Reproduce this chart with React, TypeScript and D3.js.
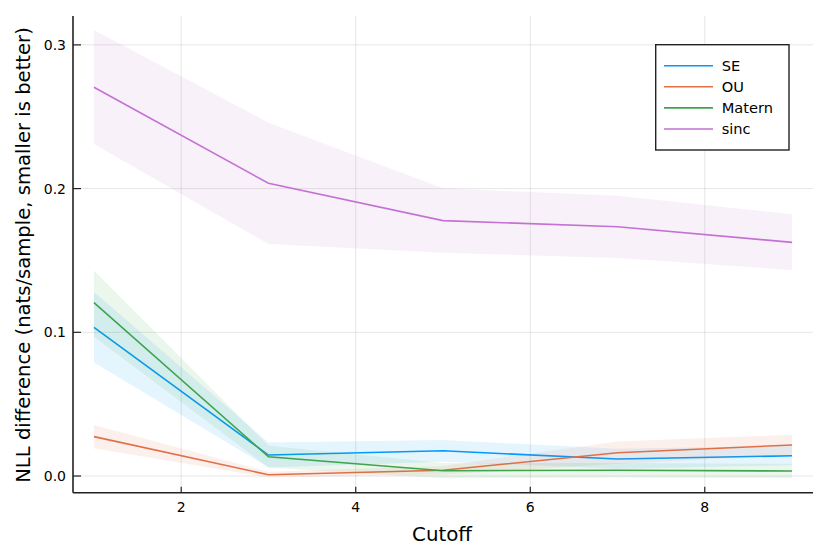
import React from "react";
import * as d3 from "d3";

// cutoff values on the x axis
const cutoffs = [1, 3, 5, 7, 9];

// mean NLL difference and ribbon bounds per kernel
const seMean = [0.1035, 0.0146, 0.0176, 0.0118, 0.0141];
const seLower = [0.079, 0.006, 0.01, 0.005, 0.0075];
const seUpper = [0.128, 0.0234, 0.025, 0.019, 0.021];

const ouMean = [0.0274, 0.0009, 0.004, 0.0162, 0.0216];
const ouLower = [0.0193, -0.001, 0.001, 0.0085, 0.0145];
const ouUpper = [0.0355, 0.003, 0.007, 0.024, 0.0287];

const maternMean = [0.1206, 0.0134, 0.0037, 0.004, 0.0035];
const maternLower = [0.097, 0.006, -0.0016, -0.001, -0.0015];
const maternUpper = [0.143, 0.021, 0.009, 0.009, 0.0085];

const sincMean = [0.2705, 0.2037, 0.1777, 0.1735, 0.1626];
const sincLower = [0.231, 0.1614, 0.1554, 0.1517, 0.1434];
const sincUpper = [0.3104, 0.2459, 0.2002, 0.1951, 0.1821];

const xTicks = [2, 4, 6, 8];
const yTicks = [0.0, 0.1, 0.2, 0.3];

const seriesNames = ["SE", "OU", "Matern", "sinc"];
const colors = ["#009AFA", "#E36F47", "#3EA44E", "#C371D2"];

const W = 830;
const H = 554;
const left = 73;
const right = 813;
const top = 16;
const bottom = 492.7;

const font = "'DejaVu Sans', sans-serif";

export default function App() {
  const x = d3.scaleLinear().domain([0.76, 9.24]).range([left, right]);
  const y = d3.scaleLinear().domain([-0.0116, 0.3201]).range([bottom, top]);

  const series = [
    { mean: seMean, lo: seLower, hi: seUpper },
    { mean: ouMean, lo: ouLower, hi: ouUpper },
    { mean: maternMean, lo: maternLower, hi: maternUpper },
    { mean: sincMean, lo: sincLower, hi: sincUpper },
  ];

  const line = d3
    .line<number>()
    .x((_, i) => x(cutoffs[i]))
    .y((d) => y(d));

  const band = (lo: number[], hi: number[]) =>
    d3
      .area<number>()
      .x((_, i) => x(cutoffs[i]))
      .y0((_, i) => y(lo[i]))
      .y1((_, i) => y(hi[i]))(cutoffs);

  const legX = 655.7;
  const legY = 44.7;

  return (
    <svg
      width={W}
      height={H}
      style={{ position: "absolute", left: 0, top: 0, background: "white" }}
      fontFamily={font}
    >
      <rect width={W} height={H} fill="white" />
      {/* grid */}
      {xTicks.map((t) => (
        <line key={"gx" + t} x1={x(t)} x2={x(t)} y1={top} y2={bottom} stroke="#000" strokeOpacity={0.1} strokeWidth={1} />
      ))}
      {yTicks.map((t) => (
        <line key={"gy" + t} x1={left} x2={right} y1={y(t)} y2={y(t)} stroke="#000" strokeOpacity={0.1} strokeWidth={1} />
      ))}

      {/* series */}
      {series.map((s, i) => (
        <g key={seriesNames[i]}>
          <path d={band(s.lo, s.hi) || ""} fill={colors[i]} fillOpacity={0.1} stroke="none" />
          <path d={line(s.mean) || ""} fill="none" stroke={colors[i]} strokeWidth={1.6} />
        </g>
      ))}

      {/* axes */}
      <line x1={left} x2={left} y1={top} y2={bottom} stroke="#222" strokeWidth={1.6} />
      <line x1={left} x2={right} y1={bottom} y2={bottom} stroke="#222" strokeWidth={1.6} />
      {xTicks.map((t) => (
        <g key={"xt" + t}>
          <line x1={x(t)} x2={x(t)} y1={bottom} y2={bottom - 6} stroke="#222" strokeWidth={1.2} />
          <text x={x(t)} y={512} textAnchor="middle" fontSize={14} fill="#000">
            {t}
          </text>
        </g>
      ))}
      {yTicks.map((t) => (
        <g key={"yt" + t}>
          <line x1={left} x2={left + 8} y1={y(t)} y2={y(t)} stroke="#222" strokeWidth={1.2} />
          <text x={66} y={y(t)} dy="0.36em" textAnchor="end" fontSize={14} fill="#000">
            {t.toFixed(1)}
          </text>
        </g>
      ))}

      <text x={442} y={541} textAnchor="middle" fontSize={19.8} fill="#000">
        Cutoff
      </text>
      <text
        transform={`translate(30,255) rotate(-90)`}
        textAnchor="middle"
        fontSize={19.6}
        fill="#000"
      >
        NLL difference (nats/sample, smaller is better)
      </text>

      {/* legend */}
      <rect x={legX} y={legY} width={133.3} height={105.3} fill="white" stroke="#222" strokeWidth={1.4} />
      {seriesNames.map((n, i) => (
        <g key={"lg" + n}>
          <line
            x1={664}
            x2={713}
            y1={65.7 + i * 21.1}
            y2={65.7 + i * 21.1}
            stroke={colors[i]}
            strokeWidth={1.6}
          />
          <text x={721.7} y={65.7 + i * 21.1} dy="0.36em" fontSize={14.6} fill="#000">
            {n}
          </text>
        </g>
      ))}
    </svg>
  );
}
